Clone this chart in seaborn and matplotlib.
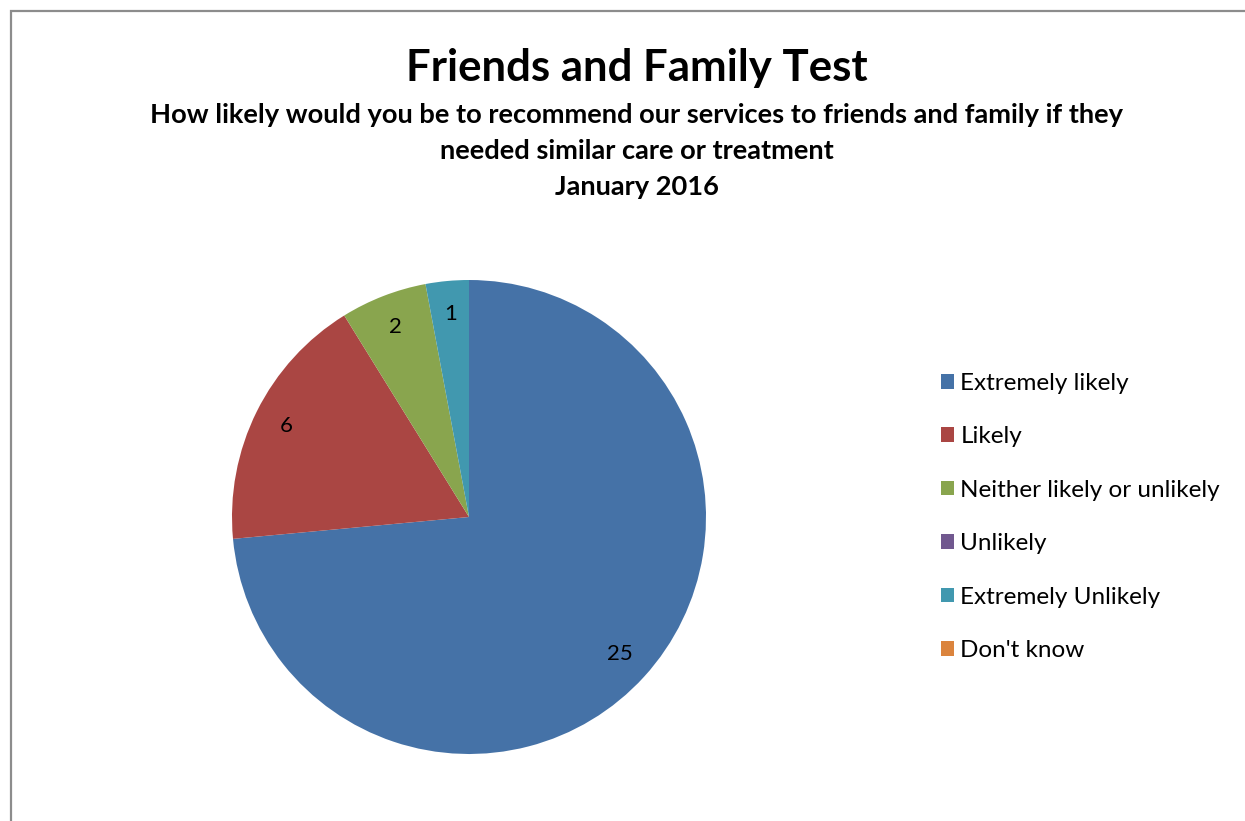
import matplotlib
matplotlib.use("Agg")
import matplotlib.pyplot as plt
import seaborn as sns
from matplotlib.patches import Rectangle

# === DATA ===
categories = ["Extremely likely", "Likely", "Neither likely or unlikely",
              "Unlikely", "Extremely Unlikely", "Don't know"]
responses = [25, 6, 2, 0, 1, 0]

title = "Friends and Family Test"
subtitle = ("How likely would you be to recommend our services to friends and family if they\n"
            "needed similar care or treatment\n"
            "January 2016")

colors = sns.color_palette(["#4572A7", "#AA4643", "#89A54E", "#71588F", "#4198AF", "#DB843D"])

# === PLOT ===
sns.set_theme(style="white")
plt.rcParams["font.family"] = ["Lato", "DejaVu Sans"]
plt.rcParams["text.color"] = "black"

fig = plt.figure(figsize=(12.45, 8.21), dpi=100)
W, H = 1245, 821

# chart area border (top and left visible)
fig.patches.append(Rectangle((11 / W, -0.05), 1.2, 1 - 11 / H + 0.05,
                             transform=fig.transFigure, fill=False,
                             edgecolor="#8c8c8c", linewidth=1.6))

ax = fig.add_axes([232 / W, (H - 754) / H, 474 / W, 474 / H])
wedge_labels = [str(v) if v else "" for v in responses]
wedges, texts = ax.pie(responses, colors=colors, startangle=90, counterclock=False,
                       labels=wedge_labels, labeldistance=0.86,
                       wedgeprops=dict(linewidth=0),
                       textprops=dict(fontsize=16, color="black", ha="center", va="center"))
ax.set_xlim(-1, 1)
ax.set_ylim(-1, 1)
ax.set_aspect("equal")

fig.text(637 / W, 1 - 68 / H, title, ha="center", va="center",
         fontsize=31.5, fontweight="bold", color="black")
fig.text(637 / W, 1 - 151 / H, subtitle, ha="center", va="center",
         fontsize=19.6, fontweight="bold", linespacing=1.6, color="black")

ax.legend(wedges, categories, loc="center left",
          bbox_to_anchor=(919 / W, 1 - 517 / H), bbox_transform=fig.transFigure,
          frameon=False, fontsize=17.5, handlelength=0.55, handleheight=0.55,
          handletextpad=0.25, labelspacing=1.335)

fig.savefig("out.png", dpi=100)
